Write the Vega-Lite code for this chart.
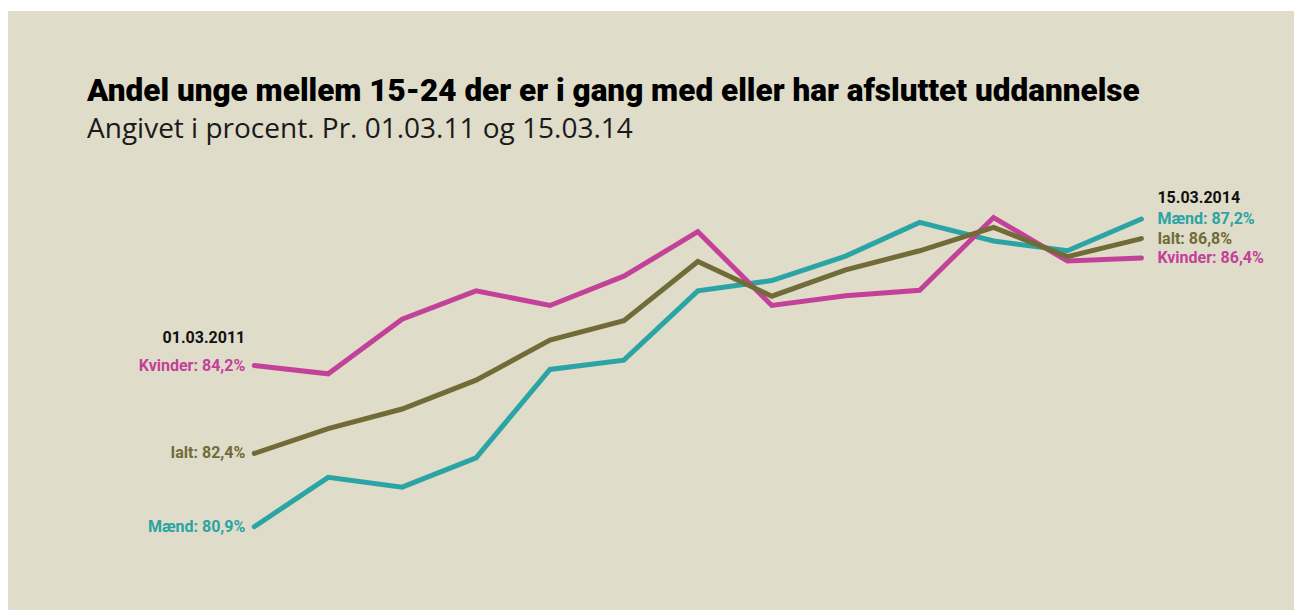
{
  "$schema": "https://vega.github.io/schema/vega-lite/v6.json",
  "autosize": {"type": "none"},
  "width": 1286,
  "height": 599,
  "padding": {"left": 8, "top": 11, "right": 0, "bottom": 0},
  "background": "#ffffff",
  "config": {
    "view": {"stroke": null, "fill": "#dfdcc9"},
    "axis": {"disable": true}
  },
  "title": {
    "text": "Andel unge mellem 15-24 der er i gang med eller har afsluttet uddannelse",
    "subtitle": "Angivet i procent. Pr. 01.03.11 og 15.03.14",
    "anchor": "start",
    "orient": "top",
    "offset": -132.5,
    "dx": 79,
    "font": "Roboto",
    "fontSize": 31.5,
    "fontWeight": 900,
    "color": "#000000",
    "subtitleFont": "Open Sans",
    "subtitleFontSize": 28,
    "subtitleFontWeight": 400,
    "subtitleColor": "#1a1a1a",
    "subtitlePadding": 8
  },
  "datasets": {
    "serier": [
      {"kvartal": 0, "serie": "Mænd", "andel": 80.9},
      {"kvartal": 1, "serie": "Mænd", "andel": 81.91},
      {"kvartal": 2, "serie": "Mænd", "andel": 81.71},
      {"kvartal": 3, "serie": "Mænd", "andel": 82.31},
      {"kvartal": 4, "serie": "Mænd", "andel": 84.12},
      {"kvartal": 5, "serie": "Mænd", "andel": 84.31},
      {"kvartal": 6, "serie": "Mænd", "andel": 85.73},
      {"kvartal": 7, "serie": "Mænd", "andel": 85.94},
      {"kvartal": 8, "serie": "Mænd", "andel": 86.44},
      {"kvartal": 9, "serie": "Mænd", "andel": 87.13},
      {"kvartal": 10, "serie": "Mænd", "andel": 86.75},
      {"kvartal": 11, "serie": "Mænd", "andel": 86.55},
      {"kvartal": 12, "serie": "Mænd", "andel": 87.2},
      {"kvartal": 0, "serie": "Kvinder", "andel": 84.2},
      {"kvartal": 1, "serie": "Kvinder", "andel": 84.03},
      {"kvartal": 2, "serie": "Kvinder", "andel": 85.15},
      {"kvartal": 3, "serie": "Kvinder", "andel": 85.73},
      {"kvartal": 4, "serie": "Kvinder", "andel": 85.43},
      {"kvartal": 5, "serie": "Kvinder", "andel": 86.03},
      {"kvartal": 6, "serie": "Kvinder", "andel": 86.94},
      {"kvartal": 7, "serie": "Kvinder", "andel": 85.43},
      {"kvartal": 8, "serie": "Kvinder", "andel": 85.63},
      {"kvartal": 9, "serie": "Kvinder", "andel": 85.74},
      {"kvartal": 10, "serie": "Kvinder", "andel": 87.23},
      {"kvartal": 11, "serie": "Kvinder", "andel": 86.34},
      {"kvartal": 12, "serie": "Kvinder", "andel": 86.4},
      {"kvartal": 0, "serie": "Ialt", "andel": 82.4},
      {"kvartal": 1, "serie": "Ialt", "andel": 82.91},
      {"kvartal": 2, "serie": "Ialt", "andel": 83.31},
      {"kvartal": 3, "serie": "Ialt", "andel": 83.9},
      {"kvartal": 4, "serie": "Ialt", "andel": 84.72},
      {"kvartal": 5, "serie": "Ialt", "andel": 85.12},
      {"kvartal": 6, "serie": "Ialt", "andel": 86.33},
      {"kvartal": 7, "serie": "Ialt", "andel": 85.62},
      {"kvartal": 8, "serie": "Ialt", "andel": 86.16},
      {"kvartal": 9, "serie": "Ialt", "andel": 86.55},
      {"kvartal": 10, "serie": "Ialt", "andel": 87.03},
      {"kvartal": 11, "serie": "Ialt", "andel": 86.43},
      {"kvartal": 12, "serie": "Ialt", "andel": 86.8}
    ],
    "etiketter": [
      {"kvartal": 0, "serie": "Kvinder", "andel": 84.2, "tekst": "Kvinder: 84,2%", "side": "venstre"},
      {"kvartal": 0, "serie": "Ialt", "andel": 82.4, "tekst": "Ialt: 82,4%", "side": "venstre"},
      {"kvartal": 0, "serie": "Mænd", "andel": 80.9, "tekst": "Mænd: 80,9%", "side": "venstre"},
      {"kvartal": 12, "serie": "Mænd", "andel": 87.2, "tekst": "Mænd: 87,2%", "side": "hoejre"},
      {"kvartal": 12, "serie": "Ialt", "andel": 86.8, "tekst": "Ialt: 86,8%", "side": "hoejre"},
      {"kvartal": 12, "serie": "Kvinder", "andel": 86.4, "tekst": "Kvinder: 86,4%", "side": "hoejre"}
    ],
    "datoer": [
      {"kvartal": 0, "andel": 84.2, "tekst": "01.03.2011", "side": "venstre"},
      {"kvartal": 12, "andel": 87.2, "tekst": "15.03.2014", "side": "hoejre"}
    ]
  },
  "encoding": {
    "x": {"field": "kvartal", "type": "quantitative", "scale": {"domain": [-3.331, 14.064], "nice": false, "zero": false}, "axis": null},
    "y": {"field": "andel", "type": "quantitative", "scale": {"domain": [79.195, 91.459], "nice": false, "zero": false}, "axis": null}
  },
  "layer": [
    {
      "data": {"name": "serier"},
      "mark": {"type": "line", "strokeWidth": 5, "strokeCap": "round", "strokeJoin": "miter", "clip": false},
      "encoding": {
        "color": {
          "field": "serie", "type": "nominal",
          "scale": {"domain": ["Mænd", "Kvinder", "Ialt"], "range": ["#2aa4a4", "#c4419a", "#716b38"]},
          "legend": null
        },
        "order": {"field": "kvartal", "type": "quantitative"}
      }
    },
    {
      "data": {"name": "etiketter"},
      "transform": [{"filter": "datum.side === 'venstre'"}],
      "mark": {"type": "text", "align": "right", "baseline": "middle", "dx": -9, "font": "Roboto", "fontWeight": "bold", "fontSize": 16},
      "encoding": {
        "text": {"field": "tekst"},
        "color": {"field": "serie", "type": "nominal", "legend": null}
      }
    },
    {
      "data": {"name": "etiketter"},
      "transform": [{"filter": "datum.side === 'hoejre'"}],
      "mark": {"type": "text", "align": "left", "baseline": "middle", "dx": 16, "font": "Roboto", "fontWeight": "bold", "fontSize": 16},
      "encoding": {
        "text": {"field": "tekst"},
        "color": {"field": "serie", "type": "nominal", "legend": null}
      }
    },
    {
      "data": {"name": "datoer"},
      "transform": [{"filter": "datum.side === 'venstre'"}],
      "mark": {"type": "text", "align": "right", "baseline": "middle", "dx": -9, "dy": -28, "font": "Roboto", "fontWeight": "bold", "fontSize": 16, "color": "#111111"},
      "encoding": {"text": {"field": "tekst"}}
    },
    {
      "data": {"name": "datoer"},
      "transform": [{"filter": "datum.side === 'hoejre'"}],
      "mark": {"type": "text", "align": "left", "baseline": "middle", "dx": 16, "dy": -21, "font": "Roboto", "fontWeight": "bold", "fontSize": 16, "color": "#111111"},
      "encoding": {"text": {"field": "tekst"}}
    }
  ]
}
